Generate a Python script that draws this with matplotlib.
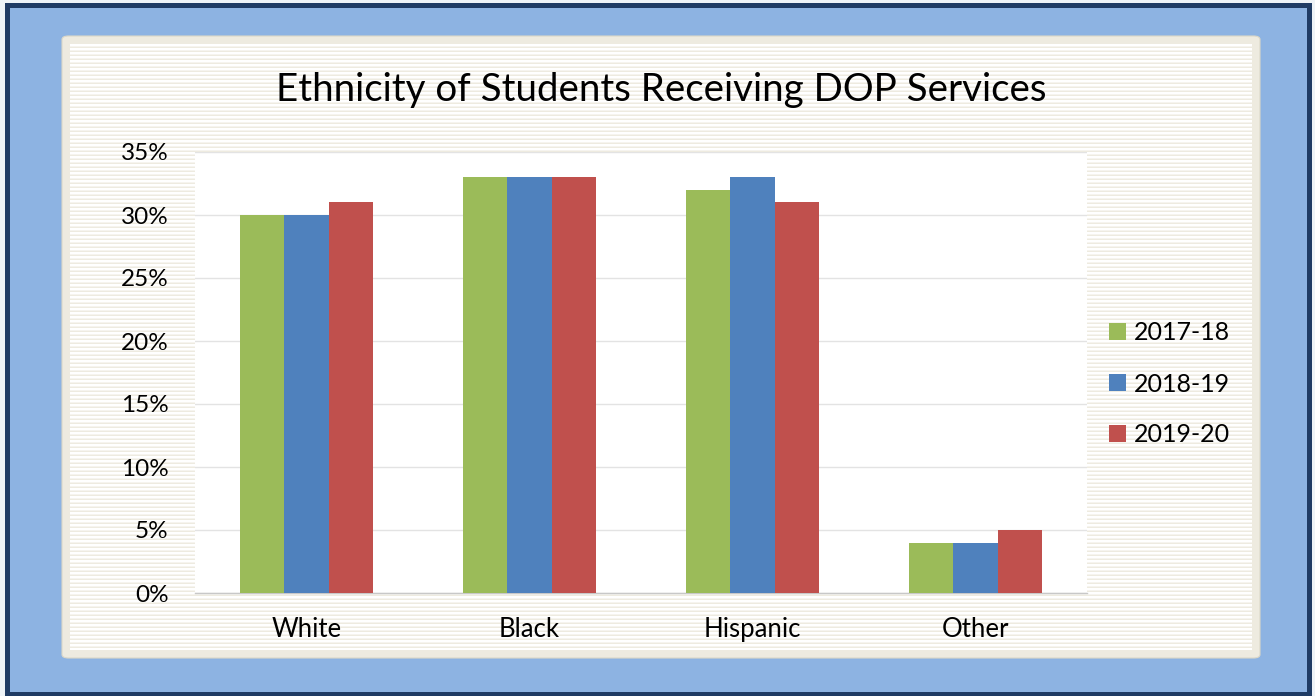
import numpy as np
import matplotlib
matplotlib.use("Agg")
import matplotlib.pyplot as plt
from matplotlib.patches import Rectangle, FancyBboxPatch, Patch

categories = ["White", "Black", "Hispanic", "Other"]
series_names = ["2017-18", "2018-19", "2019-20"]
v2017 = [30, 33, 32, 4]
v2018 = [30, 33, 33, 4]
v2019 = [31, 33, 31, 5]
yticks = [0, 5, 10, 15, 20, 25, 30, 35]
colors = ["#9bbb59", "#4f81bd", "#c0504d"]

W, H = 1315, 696
plt.rcParams['font.family'] = ['Lato', 'DejaVu Sans']
fig = plt.figure(figsize=(W / 100, H / 100), dpi=100, facecolor="#eef3f7")

def px(x0, y0, x1, y1):
    # pixel box (top-left origin) -> figure fraction
    return (x0 / W, 1 - y1 / H, (x1 - x0) / W, (y1 - y0) / H)

# dark frame and blue fill
l, b, w, h = px(5, 3, 1312, 697)
fig.add_artist(Rectangle((l, b), w, h, transform=fig.transFigure,
                         facecolor="#1f3b64", edgecolor="none", zorder=0))
l, b, w, h = px(10, 8, 1307, 692)
fig.add_artist(Rectangle((l, b), w, h, transform=fig.transFigure,
                         facecolor="#8db3e2", edgecolor="none", zorder=0))
# panel
l, b, w, h = px(62, 36, 1260, 658)
fig.add_artist(FancyBboxPatch((l, b), w, h, transform=fig.transFigure,
                              boxstyle="round,pad=0,rounding_size=0.005",
                              facecolor="#eeebe0", edgecolor="#dcd8c8",
                              linewidth=0.8, zorder=0))

# striped region
sx0, sy0, sx1, sy1 = 70, 44, 1252, 650
sax = fig.add_axes(px(sx0, sy0, sx1, sy1), zorder=0)
nrows = sy1 - sy0
pattern = np.ones((nrows, 1, 3))
beige = np.array([0xee, 0xeb, 0xe0]) / 255
for r in range(nrows):
    if r % 4 == 3:
        pattern[r, 0] = beige
    elif r % 4 == 2:
        pattern[r, 0] = (beige + 1) / 2
sax.imshow(pattern, aspect="auto", interpolation="nearest", extent=(0, 1, 0, 1))
sax.axis("off")

# main axes
ax = fig.add_axes(px(195, 152, 1087, 593), zorder=2)
ax.set_facecolor("white")
x = np.arange(len(categories))
bw = 0.2
for i, (vals, c, name) in enumerate(zip([v2017, v2018, v2019], colors, series_names)):
    ax.bar(x + (i - 1) * bw, vals, width=bw, color=c, label=name, zorder=3)

ax.set_xlim(-0.5, len(categories) - 0.5)
ax.set_ylim(0, 35)
ax.set_yticks(yticks)
ax.set_yticklabels([f"{t}%" for t in yticks])
ax.set_xticks(x)
ax.set_xticklabels(categories)
ax.yaxis.grid(True, color="#e3e3e3", linewidth=1, zorder=0)
ax.set_axisbelow(True)
for s in ["top", "right", "left"]:
    ax.spines[s].set_visible(False)
ax.spines["bottom"].set_color("#c8c8c8")
ax.spines["bottom"].set_linewidth(1)
ax.tick_params(axis="both", length=0, colors="black")
ax.tick_params(axis="y", pad=19, labelsize=17.5)
ax.tick_params(axis="x", pad=17, labelsize=18.5)

fig.text(661 / W, 1 - 90 / H, "Ethnicity of Students Receiving DOP Services",
         ha="center", va="center", fontsize=27.7, zorder=5)

handles = [Patch(facecolor=c, edgecolor="none") for c in colors]
fig.legend(handles, series_names, loc="center left",
           bbox_to_anchor=(1086 / W, 1 - 384 / H), frameon=False,
           fontsize=18, handlelength=0.68, handleheight=0.68,
           handletextpad=0.32, labelspacing=1.12)

fig.savefig("out.png", dpi=100, facecolor=fig.get_facecolor())
